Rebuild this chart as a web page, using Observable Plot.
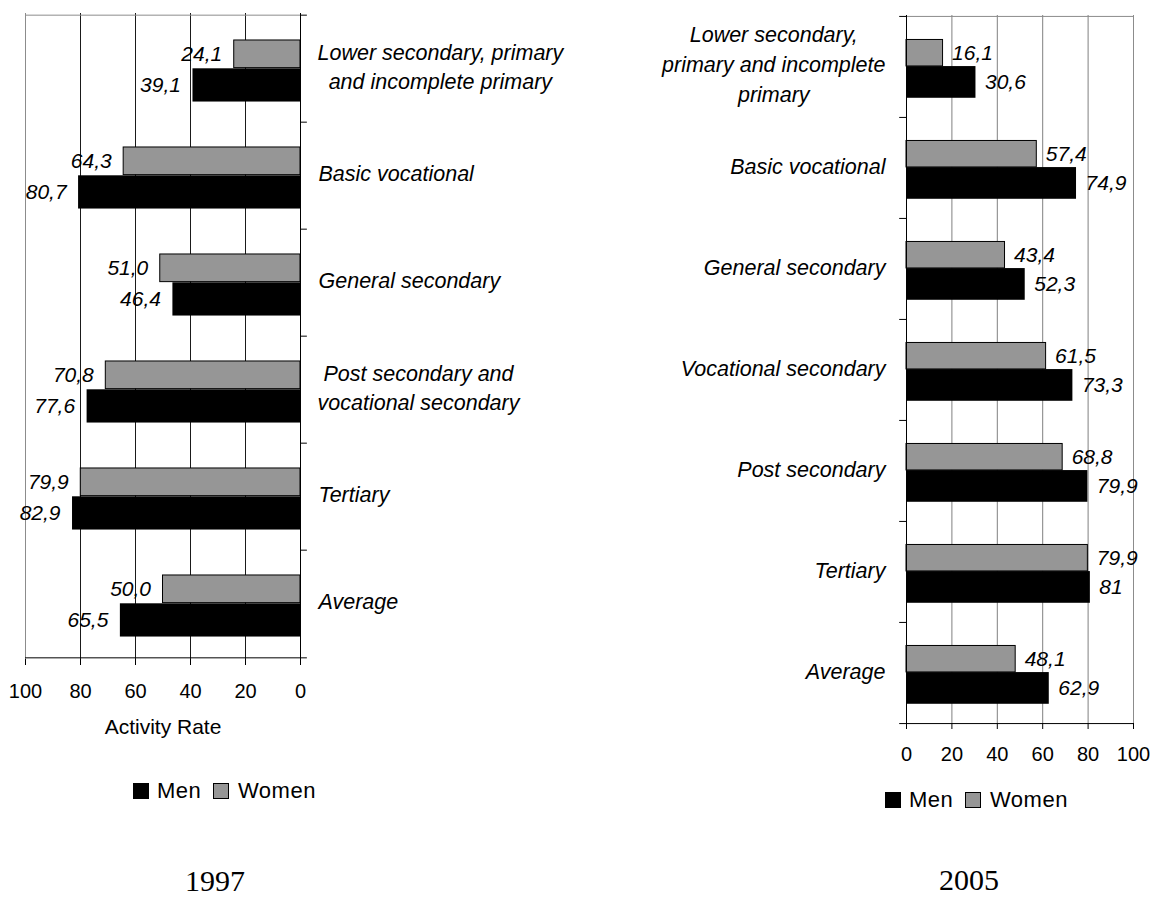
<!DOCTYPE html>
<html><head><meta charset="utf-8">
<script src="https://cdn.jsdelivr.net/npm/d3@7"></script>
<script src="https://cdn.jsdelivr.net/npm/@observablehq/plot@0.6"></script>
<style>
body{margin:0;background:#fff;}
#root{position:relative;width:1157px;height:897px;overflow:hidden;font-family:"Liberation Sans",Arial,sans-serif;color:#000;}
.sw{position:absolute;width:16px;height:16px;box-sizing:border-box;}
.lt{position:absolute;font-size:22px;line-height:22px;white-space:nowrap;letter-spacing:0.5px;}
.yr{position:absolute;font-family:"Liberation Serif","Times New Roman",serif;font-size:30px;line-height:28px;height:28px;width:200px;text-align:center;}
</style></head><body><div id="root"></div>
<script>
// ---- data ----
const categories97 = ["Lower secondary, primary\nand incomplete primary", "Basic vocational", "General secondary", "Post secondary and\nvocational secondary", "Tertiary", "Average"];
const men97 = [39.1, 80.7, 46.4, 77.6, 82.9, 65.5];
const women97 = [24.1, 64.3, 51.0, 70.8, 79.9, 50.0];

const categories05 = ["Lower secondary,\nprimary and incomplete\nprimary", "Basic vocational", "General secondary", "Vocational secondary", "Post secondary", "Tertiary", "Average"];
const men05 = [30.6, 74.9, 52.3, 73.3, 79.9, 81, 62.9];
const women05 = [16.1, 57.4, 43.4, 61.5, 68.8, 79.9, 48.1];

const xTicks = [0, 20, 40, 60, 80, 100];
const gridTicks = [20, 40, 60, 80];
const seriesNames = ["Men", "Women"];
const years = ["1997", "2005"];
const axisTitle = "Activity Rate";

// ---- styles ----
const FONT = '"Liberation Sans", Arial, sans-serif';
const MEN_FILL = "#000000";
const WOMEN_FILL = "#969696";
const BORDER = "#8c8c8c";
const W_TOP = 0.232, SPLIT = 0.495, M_BOT = 0.81;
const CAT_SIZE = 21.5, VAL_SIZE = 21;

const fmt97 = v => v.toFixed(1).replace(".", ",");
const fmt05 = v => String(v).replace(".", ",");

// measure widest line of a multi-line label (for block alignment like the original)
const mctx = document.createElement("canvas").getContext("2d");
mctx.font = `italic ${CAT_SIZE}px "Liberation Sans", Arial, sans-serif`;
const blockWidth = s => Math.max(...s.split("\n").map(l => mctx.measureText(l).width));

function rowsOf(cats, men, women) {
  return cats.flatMap((c, i) => [
    {category: c, sex: "Women", value: women[i]},
    {category: c, sex: "Men", value: men[i]}
  ]);
}

const root = document.getElementById("root");

// ---- 1997 panel ----
{
  const W = 600, H = 760, mt = 13, mb = 101, ml = 25, mr = 300;
  const b = (H - mt - mb) / categories97.length;
  const rows = rowsOf(categories97, men97, women97);
  const single = categories97.filter(c => !c.includes("\n"));
  const multi = categories97.filter(c => c.includes("\n"));
  const first = categories97[0], last = categories97[categories97.length - 1];
  const svg = Plot.plot({
    width: W, height: H, marginTop: mt, marginBottom: mb, marginLeft: ml, marginRight: mr,
    style: {fontFamily: FONT, fontSize: "20px", background: "transparent", color: "black", overflow: "visible"},
    x: {domain: [0, 100], reverse: true, label: null},
    y: {domain: categories97, padding: 0, label: null},
    marks: [
      Plot.gridX(gridTicks, {stroke: "#1a1a1a", strokeOpacity: 1}),
      Plot.ruleX([100], {stroke: BORDER}),
      Plot.ruleY([first], {y: d => d, dy: -b / 2, x1: 100, x2: 0, stroke: BORDER}),
      Plot.barX(rows.filter(d => d.sex === "Men"), {x: "value", y: "category", fill: MEN_FILL, insetTop: SPLIT * b, insetBottom: (1 - M_BOT) * b}),
      Plot.barX(rows.filter(d => d.sex === "Women"), {x: "value", y: "category", fill: WOMEN_FILL, stroke: "black", strokeWidth: 1, insetTop: W_TOP * b, insetBottom: (1 - SPLIT) * b}),
      Plot.ruleX([0], {stroke: "black"}),
      Plot.ruleY(categories97, {y: d => d, dy: -b / 2, x1: 0, x2: -2.5, stroke: "black"}),
      Plot.ruleY([last], {y: d => d, dy: b / 2, x1: 100, x2: -2.5, stroke: "black"}),
      Plot.axisX(xTicks, {tickSize: 6, tickPadding: 18, tickFormat: d => String(d), fontSize: 20}),
      Plot.text([axisTitle], {text: d => d, frameAnchor: "bottom", dy: 74, fontSize: 21}),
      Plot.text(rows.filter(d => d.sex === "Women"), {x: "value", y: "category", text: d => fmt97(d.value), textAnchor: "end", dx: -12, dy: ((W_TOP + SPLIT) / 2 - 0.5) * b, fontStyle: "italic", fontSize: VAL_SIZE}),
      Plot.text(rows.filter(d => d.sex === "Men"), {x: "value", y: "category", text: d => fmt97(d.value), textAnchor: "end", dx: -12, dy: ((SPLIT + M_BOT) / 2 - 0.5) * b, fontStyle: "italic", fontSize: VAL_SIZE}),
      Plot.axisY(single, {anchor: "right", tickSize: 0, tickPadding: 18, fontStyle: "italic", fontSize: CAT_SIZE, dy: -2, label: null}),
      ...multi.map(c => Plot.axisY([c], {anchor: "right", tickSize: 0, tickPadding: 17 + blockWidth(c) / 2, textAnchor: "middle", lineHeight: 1.38, fontStyle: "italic", fontSize: CAT_SIZE, dy: -4, label: null}))
    ]
  });
  svg.style.position = "absolute"; svg.style.left = "0px"; svg.style.top = "0px";
  root.appendChild(svg);
}

// ---- 2005 panel ----
{
  const W = 597, H = 770, mt = 15, mb = 47, ml = 346, mr = 24;
  const b = (H - mt - mb) / categories05.length;
  const rows = rowsOf(categories05, men05, women05);
  const single = categories05.filter(c => !c.includes("\n"));
  const multi = categories05.filter(c => c.includes("\n"));
  const first = categories05[0], last = categories05[categories05.length - 1];
  const svg = Plot.plot({
    width: W, height: H, marginTop: mt, marginBottom: mb, marginLeft: ml, marginRight: mr,
    style: {fontFamily: FONT, fontSize: "20px", background: "transparent", color: "black", overflow: "visible"},
    x: {domain: [0, 100], label: null},
    y: {domain: categories05, padding: 0, label: null},
    marks: [
      Plot.gridX(gridTicks, {stroke: "#808080", strokeOpacity: 1}),
      Plot.ruleX([100], {stroke: BORDER}),
      Plot.ruleY([first], {y: d => d, dy: -b / 2, x1: 0, x2: 100, stroke: BORDER}),
      Plot.barX(rows.filter(d => d.sex === "Men"), {x: "value", y: "category", fill: MEN_FILL, insetTop: SPLIT * b, insetBottom: (1 - M_BOT) * b}),
      Plot.barX(rows.filter(d => d.sex === "Women"), {x: "value", y: "category", fill: WOMEN_FILL, stroke: "black", strokeWidth: 1, insetTop: W_TOP * b, insetBottom: (1 - SPLIT) * b}),
      Plot.ruleX([0], {stroke: "black"}),
      Plot.ruleY(categories05, {y: d => d, dy: -b / 2, x1: 0, x2: -3, stroke: "black"}),
      Plot.ruleY([last], {y: d => d, dy: b / 2, x1: -3, x2: 100, stroke: "black"}),
      Plot.axisX(xTicks, {tickSize: 6, tickPadding: 17, tickFormat: d => String(d), fontSize: 20}),
      Plot.text(rows.filter(d => d.sex === "Women"), {x: "value", y: "category", text: d => fmt05(d.value), textAnchor: "start", dx: 9, dy: ((W_TOP + SPLIT) / 2 - 0.5) * b, fontStyle: "italic", fontSize: VAL_SIZE}),
      Plot.text(rows.filter(d => d.sex === "Men"), {x: "value", y: "category", text: d => fmt05(d.value), textAnchor: "start", dx: 9, dy: ((SPLIT + M_BOT) / 2 - 0.5) * b, fontStyle: "italic", fontSize: VAL_SIZE}),
      Plot.axisY(single, {anchor: "left", tickSize: 0, tickPadding: 21, fontStyle: "italic", fontSize: CAT_SIZE, dy: -1, label: null}),
      ...multi.map(c => Plot.axisY([c], {anchor: "left", tickSize: 0, tickPadding: 21 + blockWidth(c) / 2, textAnchor: "middle", lineHeight: 1.4, fontStyle: "italic", fontSize: CAT_SIZE, dy: -5, label: null}))
    ]
  });
  svg.style.position = "absolute"; svg.style.left = "560px"; svg.style.top = "0px";
  root.appendChild(svg);
}

// ---- legends and year captions ----
function legend(x0, cy) {
  const pos = [
    {sw: x0, tx: x0 + 24, fill: MEN_FILL, border: "1px solid #000"},
    {sw: x0 + 80, tx: x0 + 105, fill: WOMEN_FILL, border: "1.5px solid #000"}
  ];
  seriesNames.forEach((name, i) => {
    const s = document.createElement("div");
    s.className = "sw";
    s.style.left = pos[i].sw + "px"; s.style.top = (cy - 8) + "px";
    s.style.background = pos[i].fill; s.style.border = pos[i].border;
    root.appendChild(s);
    const t = document.createElement("div");
    t.className = "lt";
    t.style.left = pos[i].tx + "px"; t.style.top = (cy - 11) + "px";
    t.textContent = name;
    root.appendChild(t);
  });
}
legend(133, 791);
legend(885, 800);

function year(text, cx, cy) {
  const d = document.createElement("div");
  d.className = "yr";
  d.style.left = (cx - 100) + "px"; d.style.top = (cy - 14) + "px";
  d.textContent = text;
  root.appendChild(d);
}
year(years[0], 215, 881);
year(years[1], 969, 880);
</script>
</body></html>
